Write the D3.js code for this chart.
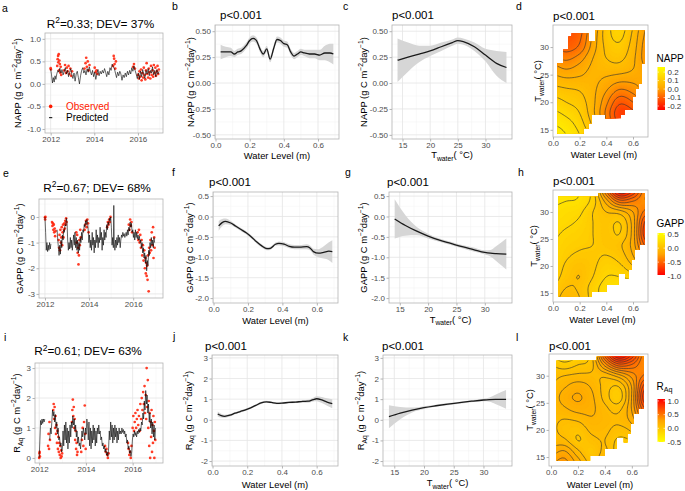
<!DOCTYPE html>
<html>
<head>
<meta charset="utf-8">
<script src="https://cdn.jsdelivr.net/npm/d3@7"></script>
<style>
  body { margin: 0; background: #fff; }
  text { font-family: "Liberation Sans", Arial, sans-serif; }
</style>
</head>
<body>
<svg id="fig" width="685" height="491"></svg>
<script>
// ---------- data ----------
// time series: [decimal year, value]; null breaks the predicted line
var nappObs = [[2012.00,0.35],[2012.01,0.32],[2012.30,0.40],[2012.32,0.55],[2012.34,0.62],[2012.35,0.48],[2012.37,0.66],[2012.38,0.30],[2012.40,0.52],[2012.42,0.44],[2012.44,0.25],[2012.46,0.38],[2012.48,0.20],
  [2012.62,0.30],[2012.66,0.42],[2012.70,0.24],[2012.74,0.36],[2012.78,0.28],[2012.82,0.40],[2012.86,0.22],[2012.90,0.34],[2012.94,0.18],[2012.98,0.28],
  [2013.55,0.34],[2013.60,0.46],[2013.63,0.58],[2013.66,0.38],[2013.70,0.50],[2013.74,0.30],[2013.78,0.42],[2014.02,0.36],[2014.06,0.26],[2014.10,0.30],[2014.14,0.22],
  [2014.86,0.40],[2014.89,0.62],[2014.91,0.56],[2014.93,0.44],[2014.96,0.34],[2014.99,0.50],[2015.78,0.38],[2015.82,0.44],[2015.86,0.34],
  [2016.00,0.20],[2016.04,0.12],[2016.07,0.28],[2016.10,0.16],[2016.14,0.32],[2016.17,0.08],[2016.20,0.24],[2016.24,0.14],[2016.27,0.36],[2016.30,0.20],[2016.34,0.10],[2016.37,0.30],[2016.40,0.46],[2016.43,0.22],[2016.47,0.14],[2016.50,0.34],[2016.53,0.26],[2016.57,0.12],[2016.60,0.40],[2016.63,0.20],[2016.67,0.30],[2016.70,0.16],[2016.73,0.42],[2016.77,0.24],[2016.80,0.36],[2016.83,0.18],[2016.87,0.28],[2016.90,0.40],[2016.93,0.22],[2016.96,0.32]];
var nappPred = [[2012.00,0.33],[2012.04,0.20],[2012.08,0.02],[2012.12,0.14],[2012.16,0.04],[2012.20,0.18],[2012.24,0.10],[2012.28,0.22],[2012.33,0.30],[2012.38,0.26],[2012.42,0.35],[2012.47,0.24],[2012.52,0.32],[2012.57,0.20],[2012.62,0.28],[2012.67,0.36],[2012.72,0.22],[2012.77,0.30],[2012.82,0.16],[2012.87,0.26],[2012.92,0.34],[2012.97,0.20],
  [2013.02,0.12],[2013.07,0.24],[2013.12,0.06],[2013.17,0.22],[2013.22,0.28],[2013.27,0.14],[2013.32,0.00],[2013.37,0.18],[2013.42,0.30],[2013.47,0.36],[2013.52,0.24],[2013.57,0.30],[2013.62,0.20],[2013.67,0.34],[2013.72,0.26],[2013.77,0.38],[2013.82,0.28],[2013.87,0.20],[2013.92,0.30],[2013.97,0.16],
  [2014.02,0.26],[2014.07,0.10],[2014.12,0.22],[2014.17,0.32],[2014.22,0.18],[2014.27,0.28],[2014.32,0.22],[2014.37,0.30],[2014.42,0.24],[2014.47,0.34],[2014.52,0.26],[2014.57,0.16],[2014.62,0.28],[2014.67,0.20],[2014.72,0.36],[2014.77,0.30],[2014.82,0.44],[2014.87,0.38],[2014.92,0.34],[2014.97,0.24],
  [2015.02,0.14],[2015.07,0.26],[2015.12,0.18],[2015.17,0.28],[2015.22,0.22],[2015.27,0.08],[2015.32,0.20],[2015.37,0.14],[2015.42,0.24],[2015.47,0.16],[2015.52,0.28],[2015.57,0.20],[2015.62,0.30],[2015.67,0.22],[2015.72,0.36],[2015.77,0.28],[2015.82,0.40],[2015.87,0.30],[2015.92,0.22],[2015.97,0.12],
  [2016.02,0.24],[2016.07,0.10],[2016.12,0.28],[2016.17,0.16],[2016.22,0.32],[2016.27,0.20],[2016.32,0.12],[2016.37,0.30],[2016.42,0.22],[2016.47,0.34],[2016.52,0.18],[2016.57,0.30],[2016.62,0.24],[2016.67,0.38],[2016.72,0.20],[2016.77,0.30],[2016.82,0.16],[2016.87,0.32],[2016.92,0.22],[2016.97,0.28]];

var gappObs = [[2012.00,-0.02],[2012.01,-0.10],[2012.02,0.00],[2012.32,-0.20],[2012.34,-0.35],[2012.36,-0.25],[2012.38,-0.50],[2012.40,-0.30],[2012.42,-0.60],[2012.44,-0.45],[2012.46,-0.75],[2012.48,-0.55],
  [2012.62,-0.90],[2012.64,-1.20],[2012.66,-0.70],[2012.68,-1.30],[2012.70,-0.50],[2012.72,-1.00],[2012.74,-0.80],[2012.76,-0.40],[2012.78,-1.10],[2012.80,-0.60],[2012.82,-0.30],[2012.84,-0.80],[2012.86,-0.50],[2012.88,-0.25],[2012.90,-0.45],[2012.92,-0.15],[2012.94,-0.30],[2012.96,-0.05],[2012.98,-0.20],
  [2013.42,-0.60],[2013.44,-1.00],[2013.46,-0.70],[2013.48,-1.40],[2013.50,-1.20],[2013.52,-1.85],[2013.54,-1.50],[2013.56,-0.90],[2013.58,-1.10],[2013.60,-0.50],[2013.62,-0.80],
  [2013.80,-0.50],[2013.83,-0.30],[2013.86,-0.15],[2013.89,-0.40],[2013.92,-0.10],[2013.95,-0.25],[2013.98,-0.60],
  [2014.82,-0.40],[2014.85,-0.20],[2014.88,-0.30],[2014.91,-0.10],[2014.94,-0.20],[2014.97,0.00],
  [2015.80,-0.30],[2015.83,-0.50],[2015.86,-0.10],[2015.89,-0.35],[2015.92,-0.20],[2015.95,-0.60],
  [2016.20,-0.60],[2016.23,-0.90],[2016.26,-0.50],[2016.29,-1.00],[2016.32,-0.70],[2016.35,-1.20],[2016.38,-0.90],[2016.41,-1.50],[2016.44,-1.10],[2016.47,-1.70],[2016.50,-1.30],[2016.53,-2.00],[2016.55,-1.60],[2016.57,-2.20],[2016.59,-1.80],[2016.61,-2.30],[2016.63,-1.90],[2016.65,-2.45],[2016.67,-1.50],[2016.70,-2.90],[2016.72,-1.20],[2016.75,-1.40],[2016.78,-0.90],[2016.81,-1.30],[2016.84,-0.60],[2016.87,-1.10],[2016.90,-0.40],[2016.92,-1.60],[2016.95,-0.80],[2016.97,-1.20]];
var gappPred = [[2012.00,0.0],[2012.03,-0.6],[2012.06,-1.3],[2012.09,-1.0],[2012.12,-1.35],[2012.15,-1.1],[2012.18,-1.3],[2012.21,-1.0],[2012.24,-1.25],[2012.27,-1.05],[2012.30,null],
  [2012.55,-0.5],[2012.58,-0.9],[2012.61,-1.2],[2012.64,-1.5],[2012.67,-1.1],[2012.70,-1.45],[2012.73,-0.9],[2012.76,-1.2],[2012.79,-0.7],[2012.82,-0.9],[2012.85,-0.5],[2012.88,-0.6],[2012.91,-0.3],[2012.94,-0.35],[2012.97,-0.05],
  [2013.00,-0.2],[2013.03,-0.9],[2013.06,-1.3],[2013.09,-1.0],[2013.12,-1.25],[2013.15,-0.8],[2013.18,-1.2],[2013.21,-0.9],[2013.24,-1.3],[2013.27,-1.0],[2013.30,-0.7],[2013.33,-1.1],[2013.36,-0.6],[2013.39,-1.2],[2013.42,-0.8],[2013.45,-1.3],[2013.48,-0.9],[2013.51,-1.4],[2013.54,-1.0],[2013.57,-1.3],[2013.60,-0.8],[2013.63,-1.0],[2013.66,-0.6],[2013.69,-0.9],[2013.72,-0.5],[2013.75,-0.6],[2013.78,-0.3],[2013.81,-0.4],[2013.84,-0.15],[2013.87,-0.3],[2013.90,-0.1],[2013.93,-0.2],[2013.96,-0.5],[2013.99,-1.0],
  [2014.02,-0.7],[2014.05,-1.2],[2014.08,-0.9],[2014.11,-1.3],[2014.14,-0.6],[2014.17,-1.1],[2014.20,-0.8],[2014.23,-1.4],[2014.26,-0.9],[2014.29,-1.2],[2014.32,-0.5],[2014.35,-1.0],[2014.38,-0.7],[2014.41,-1.2],[2014.44,-0.8],[2014.47,-1.0],[2014.50,-0.4],[2014.53,-0.9],[2014.56,-0.6],[2014.59,-1.3],[2014.62,-0.8],[2014.65,-1.1],[2014.68,-0.5],[2014.71,-0.9],[2014.74,-0.6],[2014.77,-0.8],[2014.80,-0.3],[2014.83,-0.5],[2014.86,-0.2],[2014.89,-0.3],[2014.92,-0.05],[2014.95,-0.15],[2014.98,0.0],
  [2015.01,-0.4],[2015.04,-1.1],[2015.07,-0.8],[2015.10,-1.2],[2015.12,0.45],[2015.14,-1.0],[2015.17,-1.3],[2015.20,-0.9],[2015.23,-1.2],[2015.26,-0.8],[2015.29,-1.1],[2015.32,-0.7],[2015.35,-1.0],[2015.38,-0.8],[2015.41,-1.2],[2015.44,-0.9],[2015.47,-0.7],[2015.50,-0.8],[2015.53,-0.6],[2015.56,-0.75],[2015.59,-0.65],[2015.62,-0.8],[2015.65,-0.7],[2015.68,-0.6],[2015.71,-0.75],[2015.74,-0.5],[2015.77,-0.7],[2015.80,-0.4],[2015.83,-0.55],[2015.86,-0.2],[2015.89,-0.4],[2015.92,-0.25],[2015.95,-0.6],[2015.98,-0.5],
  [2016.01,-0.8],[2016.04,-0.6],[2016.07,-0.9],[2016.10,-0.5],[2016.13,-0.8],[2016.16,-0.6],[2016.19,-0.85],[2016.22,-0.7],[2016.25,-0.9],[2016.28,-0.75],[2016.31,-1.0],[2016.34,-0.9],[2016.37,-1.2],[2016.40,-1.0],[2016.43,-1.4],[2016.46,-1.2],[2016.49,-1.6],[2016.52,-1.4],[2016.55,-1.8],[2016.58,-1.5],[2016.61,-2.1],[2016.64,-1.7],[2016.67,-1.9],[2016.70,-1.3],[2016.73,-1.5],[2016.76,-1.0],[2016.79,-1.2],[2016.82,-0.8],[2016.85,-1.1],[2016.88,-0.9],[2016.91,-1.2],[2016.94,-0.8],[2016.97,-1.0]];

var raqObs = [[2012.00,0.00],[2012.01,0.15],[2012.02,0.20],[2012.03,0.05],[2012.38,0.40],[2012.40,0.80],[2012.42,0.30],[2012.44,1.20],[2012.46,0.60],
  [2012.60,1.60],[2012.62,1.80],[2012.64,1.30],[2012.66,1.70],[2012.68,1.00],[2012.70,1.40],[2012.72,0.80],[2012.74,1.10],[2012.76,0.50],[2012.78,0.90],[2012.80,0.30],[2012.82,0.70],[2012.84,0.20],[2012.86,0.50],[2012.88,0.10],[2012.90,0.40],[2012.92,0.00],[2012.94,0.25],[2012.96,0.05],[2012.98,0.15],
  [2013.40,1.20],[2013.42,1.60],[2013.44,1.95],[2013.46,1.40],[2013.48,1.70],[2013.50,1.00],[2013.52,1.30],[2013.54,0.60],[2013.56,0.90],[2013.58,0.30],[2013.60,0.50],[2013.62,0.10],[2013.64,0.20],
  [2013.80,0.20],[2013.83,0.60],[2013.86,1.00],[2013.89,0.40],[2013.92,1.20],[2013.95,1.75],[2013.97,0.80],[2013.99,0.30],
  [2014.82,0.40],[2014.85,0.20],[2014.88,0.30],[2014.91,0.10],[2014.94,0.00],[2014.97,0.15],
  [2015.80,0.50],[2015.83,0.30],[2015.86,0.10],[2015.89,0.20],[2015.92,0.00],[2015.95,0.40],
  [2016.00,1.00],[2016.03,1.40],[2016.06,0.90],[2016.09,1.20],[2016.12,1.50],[2016.15,1.00],[2016.18,1.30],[2016.21,1.60],[2016.24,1.10],[2016.27,1.40],[2016.30,0.90],[2016.33,1.80],[2016.36,1.30],[2016.39,2.00],[2016.42,1.60],[2016.45,2.20],[2016.48,1.80],[2016.51,2.40],[2016.53,1.50],[2016.56,2.10],[2016.58,1.30],[2016.60,3.00],[2016.62,1.70],[2016.65,2.60],[2016.67,1.00],[2016.69,1.90],[2016.71,0.40],[2016.73,1.50],[2016.75,0.00],[2016.77,1.20],[2016.79,0.70],[2016.81,1.60],[2016.83,0.20],[2016.85,1.10],[2016.87,0.50],[2016.89,1.40],[2016.91,0.90],[2016.93,0.00],[2016.95,1.20],[2016.97,0.60]];
var raqPred = [[2012.00,0.0],[2012.03,0.6],[2012.06,1.25],[2012.09,1.1],[2012.12,1.3],[2012.15,1.15],[2012.18,1.3],[2012.21,1.2],[2012.24,1.3],[2012.27,null],
  [2012.45,0.6],[2012.48,1.0],[2012.51,0.8],[2012.54,1.2],[2012.57,1.6],[2012.60,1.4],[2012.63,1.55],[2012.66,1.2],[2012.69,1.45],[2012.72,1.0],[2012.75,1.2],[2012.78,0.8],[2012.81,1.0],[2012.84,0.6],[2012.87,0.7],[2012.90,0.4],[2012.93,0.5],[2012.96,0.2],[2012.99,0.3],
  [2013.02,0.9],[2013.05,0.4],[2013.08,1.1],[2013.11,0.6],[2013.14,1.2],[2013.17,0.5],[2013.20,1.0],[2013.23,0.3],[2013.26,0.9],[2013.29,0.5],[2013.32,1.1],[2013.35,0.7],[2013.38,1.2],[2013.41,1.0],[2013.44,1.4],[2013.47,1.1],[2013.50,1.3],[2013.53,0.9],[2013.56,1.1],[2013.59,0.7],[2013.62,0.9],[2013.65,0.5],[2013.68,0.7],[2013.71,0.4],[2013.74,0.5],[2013.77,0.3],[2013.80,0.6],[2013.83,0.9],[2013.86,0.7],[2013.89,1.0],[2013.92,0.8],[2013.95,0.6],[2013.98,1.0],
  [2014.01,0.8],[2014.04,1.3],[2014.07,1.1],[2014.10,0.6],[2014.13,1.2],[2014.16,0.4],[2014.19,1.0],[2014.22,0.3],[2014.25,0.9],[2014.28,0.5],[2014.31,1.1],[2014.34,0.6],[2014.37,1.0],[2014.40,0.4],[2014.43,0.9],[2014.46,0.5],[2014.49,1.0],[2014.52,0.8],[2014.55,1.1],[2014.58,0.8],[2014.61,0.9],[2014.64,0.6],[2014.67,0.7],[2014.70,0.4],[2014.73,0.5],[2014.76,0.3],[2014.79,0.4],[2014.82,0.2],[2014.85,0.3],[2014.88,0.1],[2014.91,0.2],[2014.94,0.05],[2014.97,0.3],
  [2015.00,0.9],[2015.03,0.6],[2015.06,1.2],[2015.09,0.7],[2015.12,1.1],[2015.15,0.5],[2015.18,1.0],[2015.21,0.6],[2015.24,1.1],[2015.27,0.7],[2015.30,1.0],[2015.33,0.5],[2015.36,0.9],[2015.39,0.6],[2015.42,1.0],[2015.45,0.8],[2015.48,0.9],[2015.51,0.8],[2015.54,1.0],[2015.57,0.85],[2015.60,0.95],[2015.63,0.8],[2015.66,0.9],[2015.69,0.7],[2015.72,0.8],[2015.75,0.5],[2015.78,0.6],[2015.81,0.3],[2015.84,0.4],[2015.87,0.15],[2015.90,0.25],[2015.93,0.05],[2015.96,0.2],[2015.99,0.6],
  [2016.02,0.8],[2016.05,0.7],[2016.08,0.9],[2016.11,0.75],[2016.14,0.85],[2016.17,0.7],[2016.20,0.9],[2016.23,0.8],[2016.26,0.95],[2016.29,0.85],[2016.32,1.0],[2016.35,0.9],[2016.38,1.2],[2016.41,1.1],[2016.44,1.5],[2016.47,1.3],[2016.50,1.9],[2016.53,1.6],[2016.56,2.25],[2016.59,1.8],[2016.62,2.1],[2016.65,1.5],[2016.68,1.8],[2016.71,1.2],[2016.74,1.5],[2016.77,1.0],[2016.80,1.3],[2016.83,0.8],[2016.86,1.2],[2016.89,0.7],[2016.92,1.1],[2016.95,0.6],[2016.98,1.0]];

// smooth fits against water level (m)
var wlNapp = [0.03,0.06,0.09,0.11,0.13,0.15,0.18,0.20,0.22,0.24,0.26,0.28,0.30,0.32,0.34,0.36,0.38,0.40,0.42,0.44,0.46,0.48,0.50,0.52,0.55,0.58,0.61,0.64,0.67,0.69];
var nappWlFit = [0.30,0.30,0.30,0.28,0.30,0.31,0.36,0.41,0.43,0.41,0.33,0.28,0.33,0.23,0.33,0.42,0.41,0.38,0.37,0.30,0.26,0.28,0.30,0.29,0.28,0.28,0.27,0.29,0.29,0.28];
var nappWlSe = [0.07,0.05,0.04,0.03,0.03,0.03,0.03,0.03,0.03,0.03,0.03,0.03,0.03,0.03,0.03,0.03,0.03,0.03,0.03,0.03,0.03,0.03,0.03,0.03,0.04,0.04,0.05,0.07,0.09,0.10];
var wlGapp = [0.03,0.05,0.07,0.10,0.13,0.16,0.19,0.22,0.25,0.28,0.31,0.33,0.36,0.38,0.41,0.44,0.47,0.50,0.54,0.56,0.58,0.61,0.64,0.67,0.69];
var gappWlFit = [-0.23,-0.15,-0.12,-0.16,-0.24,-0.32,-0.40,-0.50,-0.62,-0.72,-0.79,-0.78,-0.68,-0.66,-0.68,-0.73,-0.75,-0.75,-0.74,-0.77,-0.86,-0.90,-0.88,-0.85,-0.86];
var gappWlSe = [0.12,0.09,0.07,0.05,0.04,0.04,0.04,0.04,0.04,0.04,0.04,0.04,0.04,0.05,0.05,0.05,0.05,0.05,0.06,0.06,0.07,0.10,0.15,0.22,0.28];
var wlRaq = [0.03,0.05,0.07,0.10,0.13,0.16,0.19,0.22,0.25,0.28,0.31,0.34,0.37,0.40,0.44,0.48,0.52,0.55,0.58,0.60,0.63,0.66,0.69];
var raqWlFit = [0.28,0.20,0.17,0.22,0.32,0.40,0.48,0.58,0.70,0.82,0.87,0.84,0.80,0.81,0.84,0.86,0.89,0.90,0.98,1.02,0.96,0.86,0.78];
var raqWlSe = [0.12,0.09,0.07,0.06,0.05,0.05,0.05,0.05,0.05,0.05,0.05,0.05,0.05,0.05,0.05,0.05,0.06,0.07,0.09,0.12,0.15,0.18,0.22];

// smooth fits against water temperature (°C)
var tNapp = [14.1,16,18,20,22,24,25,26,28,30,32,33.8];
var nappTFit = [0.22,0.25,0.28,0.31,0.35,0.39,0.41,0.40,0.35,0.27,0.19,0.15];
var nappTSe = [0.21,0.14,0.08,0.05,0.04,0.03,0.03,0.03,0.04,0.06,0.12,0.15];
var tGapp = [14.1,16,18,20,22,24,26,28,30,31,32,33.8];
var gappTFit = [-0.06,-0.22,-0.36,-0.48,-0.58,-0.66,-0.74,-0.81,-0.88,-0.90,-0.91,-0.92];
var gappTSe = [0.48,0.25,0.10,0.06,0.04,0.04,0.04,0.05,0.05,0.08,0.18,0.38];
var tRaq = [14.1,16,18,20,22,24,26,28,30,31,32,33.8];
var raqTFit = [0.15,0.32,0.47,0.59,0.68,0.76,0.83,0.90,0.96,0.98,0.99,0.99];
var raqTSe = [0.56,0.30,0.12,0.07,0.05,0.05,0.05,0.05,0.06,0.10,0.22,0.45];

// response surfaces: rows T = 14,16,...,34 ; columns water level = 0.0,0.1,...,0.7
var gridWl = [0, 0.1, 0.2, 0.3, 0.4, 0.5, 0.6, 0.7];
var gridT = [14, 16, 18, 20, 22, 24, 26, 28, 30, 32, 34];
var nappGrid = [
  [0.22, 0.20, 0.16, 0.10, 0.02,-0.06,-0.08,-0.06],
  [0.20, 0.18, 0.14, 0.07,-0.03,-0.12,-0.12,-0.08],
  [0.17, 0.15, 0.12, 0.05,-0.05,-0.15,-0.13,-0.06],
  [0.14, 0.12, 0.10, 0.05,-0.03,-0.11,-0.08,-0.02],
  [0.10, 0.09, 0.08, 0.05, 0.00,-0.05,-0.03, 0.01],
  [0.06, 0.05, 0.05, 0.05, 0.03, 0.01, 0.01, 0.02],
  [0.02, 0.00, 0.02, 0.05, 0.06, 0.06, 0.04, 0.00],
  [-0.03,-0.05,-0.02, 0.04, 0.08, 0.09, 0.05,-0.02],
  [-0.07,-0.10,-0.07, 0.02, 0.09, 0.11, 0.06,-0.02],
  [-0.09,-0.12,-0.09, 0.01, 0.10, 0.13, 0.07,-0.01],
  [-0.10,-0.13,-0.10, 0.00, 0.10, 0.14, 0.08, 0.00]];
var gappGrid = [
  [0.05,-0.05, 0.00, 0.15, 0.25, 0.35, 0.40, 0.40],
  [0.10, 0.00, 0.02, 0.15, 0.25, 0.30, 0.30, 0.25],
  [0.15, 0.05, 0.00, 0.10, 0.20, 0.20, 0.15, 0.05],
  [0.18, 0.08, 0.02, 0.08, 0.15, 0.12, 0.00,-0.15],
  [0.20, 0.12, 0.08, 0.08, 0.10, 0.05,-0.10,-0.35],
  [0.20, 0.15, 0.12, 0.10, 0.05, 0.02,-0.15,-0.55],
  [0.22, 0.18, 0.15, 0.10, 0.05, 0.10,-0.15,-0.70],
  [0.25, 0.22, 0.18, 0.10, 0.05, 0.10,-0.15,-0.65],
  [0.28, 0.25, 0.22, 0.10, 0.00,-0.05,-0.20,-0.45],
  [0.32, 0.30, 0.28, 0.15,-0.15,-0.45,-0.40,-0.30],
  [0.35, 0.35, 0.30, 0.15,-0.40,-0.90,-0.70,-0.30]];
var raqGrid = [
  [0.30, 0.35, 0.20, 0.05, 0.15, 0.00,-0.10,-0.10],
  [0.20, 0.25, 0.10, 0.00, 0.10,-0.05,-0.10,-0.05],
  [0.12, 0.10, 0.00, 0.05, 0.08,-0.02, 0.00, 0.10],
  [0.10, 0.05, 0.02, 0.10, 0.10, 0.05, 0.10, 0.25],
  [0.10, 0.08, 0.10, 0.15, 0.12, 0.10, 0.20, 0.45],
  [0.10, 0.15, 0.20, 0.18, 0.10, 0.05, 0.25, 0.65],
  [0.10, 0.20, 0.25, 0.18, 0.05,-0.05, 0.25, 0.80],
  [0.08, 0.15, 0.20, 0.15, 0.05, 0.00, 0.25, 0.70],
  [0.05, 0.08, 0.10, 0.10, 0.10, 0.20, 0.35, 0.50],
  [0.00,-0.05, 0.00, 0.05, 0.35, 0.60, 0.55, 0.40],
  [-0.10,-0.15,-0.10, 0.05, 0.60, 1.00, 0.80, 0.40]];

// observed (water level, temperature) coverage of each surface
var maskNapp = [[0.035,14.4],[0.035,27.05],[0.077,27.05],[0.077,29.5],[0.115,29.5],[0.115,31.9],[0.14,31.9],[0.14,32.5],[0.265,32.5],[0.265,31],[0.315,31],[0.315,33.0],[0.69,33.0],[0.69,27],[0.665,27],[0.665,23.4],[0.64,23.4],[0.64,22.5],[0.62,22.5],[0.62,21],[0.60,21],[0.60,18.6],[0.54,18.6],[0.54,17.7],[0.51,17.7],[0.51,17.1],[0.39,17.1],[0.39,17.7],[0.29,17.7],[0.29,16.2],[0.265,16.2],[0.265,15.3],[0.2275,15.3],[0.2275,14.4]];
var maskGapp = [[0.04,14.3],[0.04,32.8],[0.34,32.8],[0.34,33.5],[0.69,33.5],[0.69,23.9],[0.65,23.9],[0.65,23.0],[0.615,23.0],[0.615,21.1],[0.59,21.1],[0.59,19.3],[0.567,19.3],[0.567,17.7],[0.54,17.7],[0.54,18.6],[0.49,18.6],[0.49,16.5],[0.40,16.5],[0.40,15.2],[0.29,15.2],[0.29,14.3]];

var yearTicks = [2012, 2014, 2016];
var wlTicks = [0, 0.2, 0.4, 0.6];
var tTicks = [15, 20, 25, 30];
var cbNapp = [0.2, 0.1, 0, -0.1, -0.2];
var cbGapp = [0.5, 0, -0.5, -1.0];
var cbRaq = [1.0, 0.5, 0, -0.5];

// ---------- drawing ----------
var svg = d3.select("#fig");
var defs = svg.append("defs");
var hy = function (v, n) { return v.toFixed(n).replace("\u2212", "-"); };

function panel(b) {
  var x = d3.scaleLinear().domain(b.xd).range([b.L, b.R]);
  var y = d3.scaleLinear().domain(b.yd).range([b.B, b.T]);
  var g = svg.append("g");
  if (b.xm) {
    g.selectAll(".gx").data(b.xm).join("line").attr("x1", x).attr("x2", x).attr("y1", b.T).attr("y2", b.B)
      .attr("stroke", "#f2f2f2").attr("stroke-width", 0.5);
    g.selectAll(".gy").data(b.ym).join("line").attr("y1", y).attr("y2", y).attr("x1", b.L).attr("x2", b.R)
      .attr("stroke", "#f2f2f2").attr("stroke-width", 0.5);
    g.selectAll(".gX").data(b.xt).join("line").attr("x1", x).attr("x2", x).attr("y1", b.T).attr("y2", b.B)
      .attr("stroke", "#e4e4e4").attr("stroke-width", 0.8);
    g.selectAll(".gY").data(b.yt).join("line").attr("y1", y).attr("y2", y).attr("x1", b.L).attr("x2", b.R)
      .attr("stroke", "#e4e4e4").attr("stroke-width", 0.8);
  }
  var ax = svg.append("g").attr("transform", "translate(0," + b.B + ")")
    .call(d3.axisBottom(x).tickValues(b.xt).tickFormat(b.xf).tickSize(2.5).tickPadding(1));
  var ay = svg.append("g").attr("transform", "translate(" + b.L + ",0)")
    .call(d3.axisLeft(y).tickValues(b.yt).tickFormat(b.yf).tickSize(2.5).tickPadding(1.5));
  [ax, ay].forEach(function (a) {
    a.select(".domain").remove();
    a.selectAll("line").attr("stroke", "#b3b3b3");
    a.selectAll("text").attr("fill", "#4d4d4d").style("font-size", "8px");
  });
  return { x: x, y: y, g: g, b: b };
}

function border(p) {
  svg.append("rect").attr("x", p.b.L).attr("y", p.b.T).attr("width", p.b.R - p.b.L).attr("height", p.b.B - p.b.T)
    .attr("fill", "none").attr("stroke", "#b3b3b3").attr("stroke-width", 0.8);
}

function rich(sel, parts, size) {
  var cur = 0;
  parts.forEach(function (pt) {
    var shift = pt[1] === 1 ? -0.38 * size : pt[1] === -1 ? 0.28 * size : 0;
    sel.append("tspan").attr("dy", shift - cur).style("font-size", (pt[1] ? size * 0.72 : size) + "px").text(pt[0]);
    cur = shift;
  });
  return sel;
}

function text(x, y, parts, size, anchor, fill) {
  var t = svg.append("text").attr("x", x).attr("y", y).attr("text-anchor", anchor || "start").attr("fill", fill || "#000");
  return rich(t, parts, size);
}

function ytitle(p, x, parts) {
  var t = svg.append("text").attr("text-anchor", "middle")
    .attr("transform", "translate(" + x + "," + (p.b.T + p.b.B) / 2 + ") rotate(-90)");
  rich(t, parts, 9.4);
}

function series(p, obs, pred) {
  p.g.append("g").selectAll("circle").data(obs).join("circle")
    .attr("cx", function (d) { return p.x(d[0]); }).attr("cy", function (d) { return p.y(d[1]); })
    .attr("r", 1.35).attr("fill", "#ff1a00").attr("opacity", 0.85);
  p.g.append("path").datum(pred)
    .attr("d", d3.line().defined(function (d) { return d[1] !== null; })
      .x(function (d) { return p.x(d[0]); }).y(function (d) { return p.y(d[1]); }))
    .attr("fill", "none").attr("stroke", "#000").attr("stroke-width", 0.6);
}

function fit(p, xs, ys, se) {
  var pts = xs.map(function (v, i) { return { x: v, y: ys[i], s: se[i] }; });
  p.g.append("path").datum(pts)
    .attr("d", d3.area().curve(d3.curveMonotoneX).x(function (d) { return p.x(d.x); })
      .y0(function (d) { return p.y(d.y - d.s); }).y1(function (d) { return p.y(d.y + d.s); }))
    .attr("fill", "#d6d6d6");
  p.g.append("path").datum(pts)
    .attr("d", d3.line().curve(d3.curveMonotoneX).x(function (d) { return p.x(d.x); }).y(function (d) { return p.y(d.y); }))
    .attr("fill", "none").attr("stroke", "#1a1a1a").attr("stroke-width", 1.3);
}

function cr(a, b, c, d, t) {
  return 0.5 * (2 * b + (c - a) * t + (2 * a - 5 * b + 4 * c - d) * t * t + (3 * b - a - 3 * c + d) * t * t * t);
}
function sample(grid, fx, fy) {
  var ny = grid.length, nx = grid[0].length;
  var ix = Math.min(Math.floor(fx), nx - 2), iy = Math.min(Math.floor(fy), ny - 2);
  var tx = fx - ix, ty = fy - iy;
  var at = function (r, c) { return grid[Math.max(0, Math.min(ny - 1, r))][Math.max(0, Math.min(nx - 1, c))]; };
  var rows = [-1, 0, 1, 2].map(function (k) { return cr(at(iy + k, ix - 1), at(iy + k, ix), at(iy + k, ix + 1), at(iy + k, ix + 2), tx); });
  return cr(rows[0], rows[1], rows[2], rows[3], ty);
}

function surface(p, grid, mask, color, lineStep, id) {
  var nx = 57, ny = 81;
  var w0 = gridWl[0], w1 = gridWl[gridWl.length - 1], t0 = gridT[0], t1 = gridT[gridT.length - 1];
  var dw = (w1 - w0) / (nx - 1), dt = (t1 - t0) / (ny - 1);
  var cw = gridWl[1] - gridWl[0], ct = gridT[1] - gridT[0];
  var vals = new Array(nx * ny);
  for (var j = 0; j < ny; j++) for (var i = 0; i < nx; i++) vals[j * nx + i] = sample(grid, i * dw / cw, j * dt / ct);
  defs.append("clipPath").attr("id", id).append("path")
    .attr("d", d3.line()(mask.map(function (m) { return [p.x(m[0]), p.y(m[1])]; })) + "Z");
  var proj = d3.geoTransform({ point: function (gx, gy) { this.stream.point(p.x(w0 + (gx - 0.5) * dw), p.y(t0 + (gy - 0.5) * dt)); } });
  var path = d3.geoPath(proj);
  var ext = d3.extent(vals), st = (ext[1] - ext[0]) / 50;
  var cg = p.g.append("g").attr("clip-path", "url(#" + id + ")");
  var bands = d3.contours().size([nx, ny]).thresholds(d3.range(ext[0] - 1e-6, ext[1], st))(vals);
  cg.selectAll(".band").data(bands).join("path").attr("d", path)
    .attr("fill", function (d) { return color(d.value + st / 2); })
    .attr("stroke", function (d) { return color(d.value + st / 2); }).attr("stroke-width", 0.4);
  var lv = d3.range(Math.ceil(ext[0] / lineStep) * lineStep, ext[1], lineStep);
  cg.selectAll(".iso").data(d3.contours().size([nx, ny]).thresholds(lv)(vals)).join("path").attr("d", path)
    .attr("fill", "none").attr("stroke", "#333").attr("stroke-opacity", 0.85).attr("stroke-width", 0.75);
}

function colorbar(id, x0, top, bot, vmin, vmax, color, labels, title, titleY) {
  var s = d3.scaleLinear().domain([vmin, vmax]).range([bot, top]);
  var grad = defs.append("linearGradient").attr("id", id).attr("x1", 0).attr("y1", 1).attr("x2", 0).attr("y2", 0);
  d3.range(0, 1.0001, 0.1).forEach(function (t) { grad.append("stop").attr("offset", t).attr("stop-color", color(vmin + t * (vmax - vmin))); });
  svg.append("rect").attr("x", x0).attr("y", top).attr("width", 7.5).attr("height", bot - top).attr("fill", "url(#" + id + ")");
  labels.forEach(function (v) {
    svg.append("line").attr("x1", x0).attr("x2", x0 + 1.5).attr("y1", s(v)).attr("y2", s(v)).attr("stroke", "#fff").attr("stroke-width", 0.6);
    svg.append("line").attr("x1", x0 + 6).attr("x2", x0 + 7.5).attr("y1", s(v)).attr("y2", s(v)).attr("stroke", "#fff").attr("stroke-width", 0.6);
    svg.append("text").attr("x", x0 + 10).attr("y", s(v)).attr("dy", "0.35em").attr("fill", "#333")
      .style("font-size", "8px").text(hy(v, 1));
  });
  text(x0 - 1, titleY, title, 10);
}

var fTs = function (d) { return String(d); };
var f1 = function (d) { return hy(d, 1); };
var f2 = function (d) { return hy(d, 2); };
var f0 = function (d) { return String(d); };

var unitParts = [[" (g C m", 0], ["\u22122", 1], ["day", 0], ["\u22121", 1], [")", 0]];
var nappLab = [["NAPP", 0]].concat(unitParts);
var gappLab = [["GAPP", 0]].concat(unitParts);
var raqLab = [["R", 0], ["Aq", -1], [" ", 0]].concat(unitParts);
var twLab = [["T", 0], ["water", -1], ["( \u00b0C)", 0]];
var wlLab = [["Water Level (m)", 0]];

var cNapp = d3.scaleLinear().domain([-0.247, 0.0065, 0.26]).range(["#ff0000", "#ffa500", "#ffff00"]).clamp(true);
var cGapp = d3.scaleLinear().domain([-0.96, -0.21, 0.54]).range(["#ff0000", "#ffa500", "#ffff00"]).clamp(true);
var cRaq = d3.scaleLinear().domain([-0.5, 0.285, 1.07]).range(["#ffff00", "#ffa500", "#ff0000"]).clamp(true);

// ---- row 1: NAPP ----
var pa = panel({ L: 45, T: 33, R: 163, B: 133, xd: [2011.74, 2017.15], yd: [-1.09, 1.13],
  xt: yearTicks, xm: [2013, 2015, 2017], yt: [-1, -0.5, 0, 0.5, 1], ym: [-0.75, -0.25, 0.25, 0.75], xf: fTs, yf: f1 });
series(pa, nappObs, nappPred);
border(pa);
svg.append("circle").attr("cx", pa.x(2012)).attr("cy", pa.y(-0.5)).attr("r", 1.8).attr("fill", "#ff1a00");
svg.append("line").attr("x1", pa.x(2012) - 1.6).attr("x2", pa.x(2012) + 1.6).attr("y1", pa.y(-0.75)).attr("y2", pa.y(-0.75)).attr("stroke", "#000").attr("stroke-width", 1);
text(66, pa.y(-0.5) + 3.5, [["Observed", 0]], 10, "start", "#ff1a00");
text(66, pa.y(-0.75) + 3.5, [["Predicted", 0]], 10);
ytitle(pa, 20.5, nappLab);
text(100.5, 27.5, [["R", 0], ["2", 1], ["=0.33; DEV= 37%", 0]], 11.8, "middle");
text(2, 11.5, [["a", 0]], 10.5);

var pb = panel({ L: 215, T: 25, R: 339, B: 139, xd: [-0.003, 0.723], yd: [-0.54, 0.56],
  xt: wlTicks, xm: [0.1, 0.3, 0.5, 0.7], yt: [-0.5, -0.25, 0, 0.25, 0.5], ym: [-0.375, -0.125, 0.125, 0.375], xf: f1, yf: f2 });
fit(pb, wlNapp, nappWlFit, nappWlSe);
border(pb);
ytitle(pb, 194, nappLab);
text(277, 159, wlLab, 9.4, "middle");
text(220, 19, [["p<0.001", 0]], 11.5);
text(172, 10, [["b", 0]], 10.5);

var pc = panel({ L: 392, T: 25, R: 512, B: 139, xd: [13.1, 34.8], yd: [-0.54, 0.56],
  xt: tTicks, xm: [17.5, 22.5, 27.5, 32.5], yt: [-0.5, -0.25, 0, 0.25, 0.5], ym: [-0.375, -0.125, 0.125, 0.375], xf: f0, yf: f2 });
fit(pc, tNapp, nappTFit, nappTSe);
border(pc);
ytitle(pc, 367, nappLab);
text(452, 158, twLab, 9.4, "middle");
text(392, 19, [["p<0.001", 0]], 11.5);
text(343, 10, [["c", 0]], 10.5);

var pd = panel({ L: 553, T: 25, R: 648, B: 137, xd: [0, 0.7125], yd: [13.7, 34.0], xt: wlTicks, yt: tTicks, xf: f1, yf: f0 });
surface(pd, nappGrid, maskNapp, cNapp, 0.04, "clipD");
border(pd);
ytitle(pd, 541, twLab);
text(604, 158, wlLab, 9.4, "middle");
text(553, 19.5, [["p<0.001", 0]], 11.5);
text(516, 10, [["d", 0]], 10.5);
colorbar("gradD", 657.5, 67, 110, -0.247, 0.26, cNapp, cbNapp, [["NAPP", 0]], 62);

// ---- row 2: GAPP ----
var pe = panel({ L: 39, T: 199, R: 163, B: 298, xd: [2011.73, 2017.35], yd: [-3.16, 0.70],
  xt: yearTicks, xm: [2013, 2015, 2017], yt: [-3, -2, -1, 0], ym: [-2.5, -1.5, -0.5, 0.5], xf: fTs, yf: f0 });
series(pe, gappObs, gappPred);
border(pe);
ytitle(pe, 22.7, gappLab);
text(97, 191.5, [["R", 0], ["2", 1], ["=0.67; DEV= 68%", 0]], 11.8, "middle");
text(3, 176.5, [["e", 0]], 10.5);

var pf = panel({ L: 213, T: 192, R: 338, B: 303, xd: [-0.003, 0.723], yd: [-2.12, 0.6],
  xt: wlTicks, xm: [0.1, 0.3, 0.5, 0.7], yt: [-2, -1.5, -1, -0.5, 0, 0.5], ym: [-1.75, -1.25, -0.75, -0.25, 0.25], xf: f1, yf: f1 });
fit(pf, wlGapp, gappWlFit, gappWlSe);
border(pf);
ytitle(pf, 192.7, gappLab);
text(275.5, 323.5, wlLab, 9.4, "middle");
text(209, 186, [["p<0.001", 0]], 11.5);
text(172, 176, [["f", 0]], 10.5);

var pg = panel({ L: 389, T: 192, R: 512, B: 303, xd: [13.1, 34.8], yd: [-2.12, 0.6],
  xt: tTicks, xm: [17.5, 22.5, 27.5, 32.5], yt: [-2, -1.5, -1, -0.5, 0, 0.5], ym: [-1.75, -1.25, -0.75, -0.25, 0.25], xf: f0, yf: f1 });
fit(pg, tGapp, gappTFit, gappTSe);
border(pg);
ytitle(pg, 367, gappLab);
text(450.5, 322.5, twLab, 9.4, "middle");
text(387, 186, [["p<0.001", 0]], 11.5);
text(345, 176, [["g", 0]], 10.5);

var ph = panel({ L: 553, T: 190, R: 648, B: 302, xd: [0, 0.7125], yd: [13.33, 34.07], xt: wlTicks, yt: tTicks, xf: f1, yf: f0 });
surface(ph, gappGrid, maskGapp, cGapp, 0.1, "clipH");
border(ph);
ytitle(ph, 537, twLab);
text(602.5, 322.5, wlLab, 9.4, "middle");
text(553, 185, [["p<0.001", 0]], 11.5);
text(518, 176, [["h", 0]], 10.5);
colorbar("gradH", 657.5, 233, 275, -0.96, 0.54, cGapp, cbGapp, [["GAPP", 0]], 227);

// ---- row 3: R_Aq ----
var pi = panel({ L: 35, T: 363, R: 163, B: 463, xd: [2011.82, 2017.3], yd: [-0.17, 3.17],
  xt: yearTicks, xm: [2013, 2015, 2017], yt: [0, 1, 2, 3], ym: [0.5, 1.5, 2.5], xf: fTs, yf: f0 });
series(pi, raqObs, raqPred);
border(pi);
ytitle(pi, 20, raqLab);
text(88, 355, [["R", 0], ["2", 1], ["=0.61; DEV= 63%", 0]], 11.8, "middle");
text(4, 341, [["i", 0]], 10.5);

var pj = panel({ L: 212, T: 355, R: 338, B: 466, xd: [-0.003, 0.723], yd: [-2.24, 3.14],
  xt: wlTicks, xm: [0.1, 0.3, 0.5, 0.7], yt: [-2, -1, 0, 1, 2, 3], ym: [-1.5, -0.5, 0.5, 1.5, 2.5], xf: f1, yf: f0 });
fit(pj, wlRaq, raqWlFit, raqWlSe);
border(pj);
ytitle(pj, 191.7, raqLab);
text(275, 487.5, wlLab, 9.4, "middle");
text(205, 350, [["p<0.001", 0]], 11.5);
text(173, 340, [["j", 0]], 10.5);

var pk = panel({ L: 383, T: 355, R: 512, B: 466, xd: [13.1, 34.8], yd: [-2.24, 3.14],
  xt: tTicks, xm: [17.5, 22.5, 27.5, 32.5], yt: [-2, -1, 0, 1, 2, 3], ym: [-1.5, -0.5, 0.5, 1.5, 2.5], xf: f0, yf: f0 });
fit(pk, tRaq, raqTFit, raqTSe);
border(pk);
ytitle(pk, 364, raqLab);
text(447.5, 486, twLab, 9.4, "middle");
text(382, 350, [["p<0.001", 0]], 11.5);
text(343, 341, [["k", 0]], 10.5);

var pl = panel({ L: 549, T: 354, R: 648, B: 466, xd: [-0.015, 0.72], yd: [13.35, 34.0], xt: wlTicks, yt: tTicks, xf: f1, yf: f0 });
surface(pl, raqGrid, maskGapp, cRaq, 0.08, "clipL");
border(pl);
ytitle(pl, 533, twLab);
text(600, 487.5, wlLab, 9.4, "middle");
text(549, 350, [["p<0.001", 0]], 11.5);
text(516, 341, [["l", 0]], 10.5);
colorbar("gradL", 657.5, 399, 442, -0.5, 1.07, cRaq, cbRaq, [["R", 0], ["Aq", -1]], 389.5);
</script>
</body>
</html>
